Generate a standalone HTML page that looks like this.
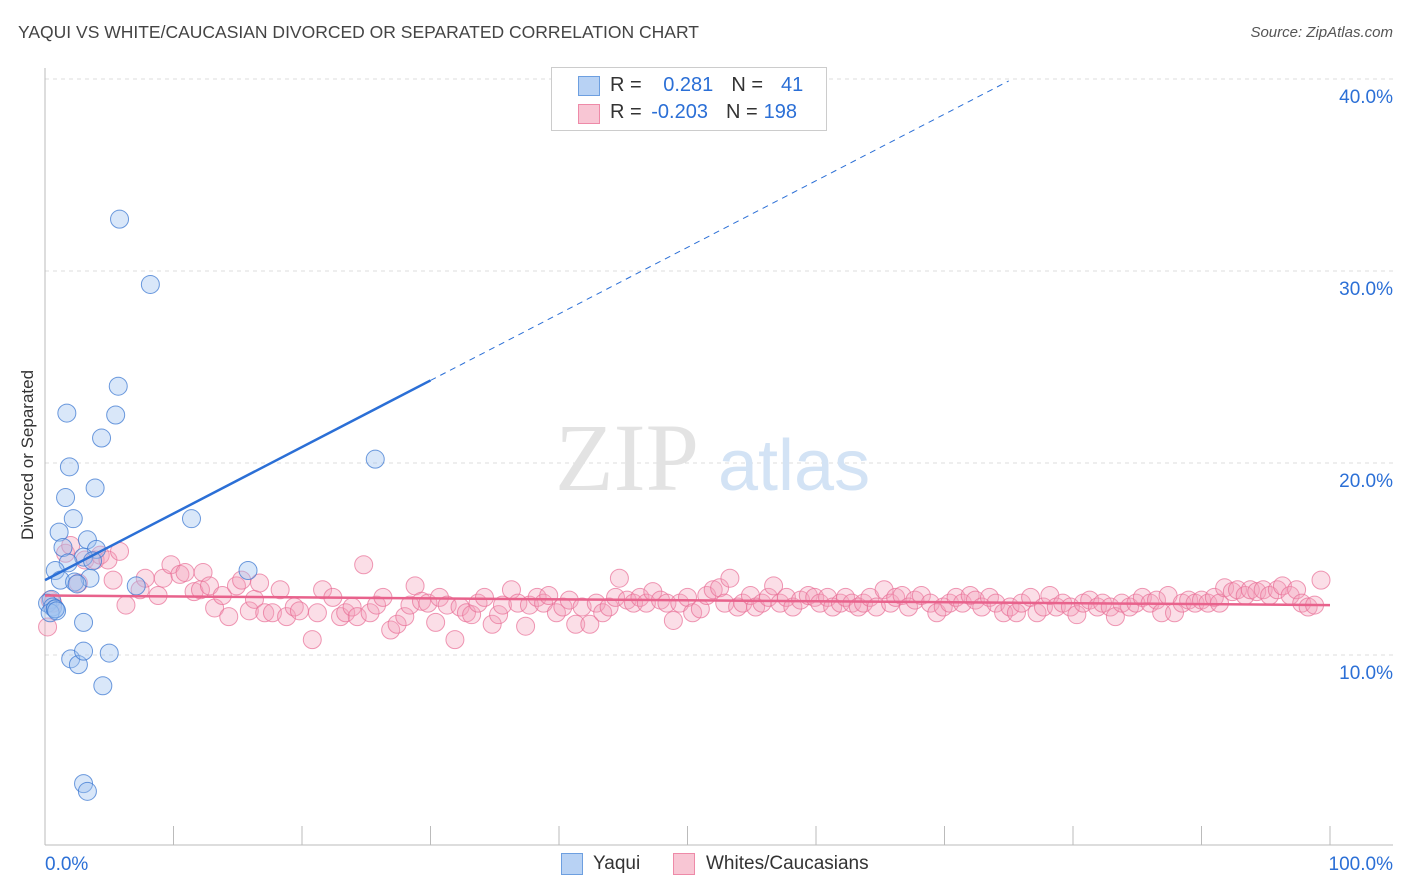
<!DOCTYPE html>
<html><head><meta charset="utf-8">
<style>
body{margin:0;background:#fff;font-family:"Liberation Sans",sans-serif;}
#wrap{position:relative;width:1406px;height:892px;overflow:hidden;}
.t{position:absolute;white-space:nowrap;}
</style></head><body>
<div id="wrap">
<div class="t" style="left:18px;top:22px;font-size:17.5px;color:#444;">YAQUI VS WHITE/CAUCASIAN DIVORCED OR SEPARATED CORRELATION CHART</div>
<div class="t" style="right:13px;top:24px;font-size:15px;color:#555;font-style:italic;">Source: ZipAtlas.com</div>
<div class="t" style="left:28px;top:455px;font-size:17px;color:#333;transform:translate(-50%,-50%) rotate(-90deg);">Divorced or Separated</div>
<svg id="plot" width="1406" height="892" style="position:absolute;left:0;top:0"></svg>
<div style="position:absolute;left:551px;top:67px;width:274px;height:62px;border:1px solid #ccc;background:#fff;font-size:20px;color:#333;">
 <div style="position:absolute;left:26px;top:8px;width:20px;height:18px;background:#b8d2f4;border:1px solid #6d9fe0;"></div>
 <div class="t" style="left:58px;top:6px;">R = <span style="color:#2b6fd6;margin-left:16px;">0.281</span><span style="margin-left:18px;">N =</span><span style="color:#2b6fd6;margin-left:18px;">41</span></div>
 <div style="position:absolute;left:26px;top:36px;width:20px;height:18px;background:#f8c6d4;border:1px solid #ee8aa8;"></div>
 <div class="t" style="left:58px;top:33px;">R = <span style="color:#2b6fd6;margin-left:4px;">-0.203</span><span style="margin-left:18px;">N =</span><span style="color:#2b6fd6;margin-left:6px;">198</span></div>
</div>
<div style="position:absolute;left:561px;top:853px;width:20px;height:20px;background:#b8d2f4;border:1px solid #6d9fe0;"></div>
<div class="t" style="left:593px;top:853px;font-size:19px;color:#333;">Yaqui</div>
<div style="position:absolute;left:673px;top:853px;width:20px;height:20px;background:#f8c6d4;border:1px solid #ee8aa8;"></div>
<div class="t" style="left:706px;top:853px;font-size:19px;color:#333;">Whites/Caucasians</div>
</div>
<script>
const yTicks=[10,20,30,40];
const yTickLabels=["10.0%","20.0%","30.0%","40.0%"];
const xTickLabels=["0.0%","100.0%"];
const yaquiX=[5.8,8.2,5.7,5.5,1.7,4.4,1.9,3.9,1.6,2.2,11.4,1.1,25.7,3.3,1.4,4.0,3.0,1.8,3.7,0.8,15.8,1.2,3.5,2.3,2.5,7.1,0.5,0.2,0.6,0.8,0.4,3.0,2.0,2.6,3.0,5.0,4.5,3.0,3.3,0.8,0.9];
const yaquiY=[32.7,29.3,24.0,22.5,22.6,21.3,19.8,18.7,18.2,17.1,17.1,16.4,20.2,16.0,15.6,15.5,15.1,14.8,14.9,14.4,14.4,13.9,14.0,13.8,13.7,13.6,12.9,12.7,12.5,12.4,12.2,11.7,9.8,9.5,10.2,10.1,8.4,3.3,2.9,12.4,12.3];
const whitesX=[0.2,0.4,0.6,1.6,2,2.6,3.1,3.9,4.3,4.9,5.3,5.8,6.3,7.4,7.8,8.8,9.2,9.8,10.5,10.9,11.6,12.1,12.3,12.8,13.2,13.8,14.3,14.9,15.3,15.9,16.3,16.7,17.1,17.7,18.3,18.8,19.4,19.8,20.8,21.2,21.6,22.4,23.0,23.4,23.9,24.3,24.8,25.3,25.8,26.3,26.9,27.4,28.0,28.4,28.8,29.3,29.8,30.4,30.7,31.3,31.9,32.3,32.8,33.2,33.7,34.2,34.8,35.3,35.6,36.3,36.8,37.4,37.7,38.3,38.8,39.2,39.8,40.3,40.8,41.3,41.8,42.4,42.9,43.4,43.9,44.4,44.7,45.3,45.8,46.3,46.8,47.3,47.9,48.4,48.9,49.4,50.0,50.4,51.0,51.5,52.0,52.5,52.9,53.3,53.9,54.3,54.9,55.3,55.8,56.3,56.7,57.2,57.7,58.2,58.8,59.4,59.9,60.3,60.9,61.3,61.9,62.3,62.8,63.3,63.7,64.2,64.7,65.3,65.8,66.2,66.7,67.2,67.7,68.2,68.9,69.4,69.9,70.4,70.9,71.4,72.0,72.4,72.9,73.5,74.0,74.6,75.1,75.6,76.0,76.7,77.2,77.7,78.2,78.7,79.2,79.8,80.3,80.8,81.3,81.9,82.3,82.9,83.3,83.8,84.4,84.9,85.4,86.0,86.5,86.9,87.4,87.9,88.5,89.0,89.5,90.0,90.5,91.0,91.4,91.8,92.4,92.8,93.4,93.8,94.3,94.8,95.3,95.9,96.3,96.9,97.4,97.8,98.3,98.8,99.3];
const whitesY=[11.46,12.86,12.7,15.3,15.7,13.75,14.95,14.95,15.2,14.95,13.9,15.4,12.6,13.4,14.0,13.1,14.0,14.7,14.2,14.3,13.3,13.4,14.3,13.6,12.45,13.1,12.0,13.6,13.9,12.3,12.9,13.75,12.2,12.2,13.4,12.0,12.5,12.3,10.8,12.2,13.4,13.0,12.0,12.2,12.5,12.0,14.7,12.2,12.6,13.0,11.3,11.6,12.0,12.6,13.6,12.8,12.7,11.7,13.0,12.6,10.8,12.5,12.2,12.1,12.7,13.0,11.6,12.1,12.6,13.4,12.7,11.5,12.6,13.0,12.7,13.1,12.2,12.5,12.86,11.6,12.5,11.6,12.7,12.2,12.5,13.0,14.0,12.86,12.7,13.0,12.7,13.3,12.86,12.7,11.8,12.7,13.0,12.2,12.4,13.1,13.4,13.5,12.7,14.0,12.5,12.7,13.1,12.5,12.7,13.0,13.6,12.7,13.0,12.5,12.86,13.1,13.0,12.7,13.0,12.5,12.7,13.0,12.7,12.5,12.7,13.0,12.5,13.4,12.7,13.0,13.1,12.5,12.86,13.1,12.7,12.2,12.5,12.7,13.0,12.7,13.1,12.86,12.5,13.0,12.7,12.2,12.5,12.2,12.7,13.0,12.2,12.5,13.1,12.5,12.7,12.5,12.1,12.7,12.86,12.5,12.7,12.5,12.0,12.7,12.5,12.7,13.0,12.7,12.86,12.2,13.1,12.2,12.7,12.86,12.7,12.86,12.7,13.0,12.7,13.5,13.3,13.4,13.1,13.4,13.3,13.4,13.1,13.4,13.6,13.1,13.4,12.7,12.5,12.6,13.9];
const yaquiTrend=[0,13.9,30,24.3,75,39.9];
const whitesTrend=[0,13.1,100,12.6];

const svg=document.getElementById('plot');
const NS='http://www.w3.org/2000/svg';
const X0=45,X1=1330,Y0=847,PX=19.2;
const sx=v=>X0+(X1-X0)*v/100;
const sy=v=>Y0-v*PX;
function mk(tag,attrs){const e=document.createElementNS(NS,tag);for(const k in attrs)e.setAttribute(k,attrs[k]);svg.appendChild(e);return e;}
// gridlines
yTicks.forEach((t,i)=>{
 const g=mk('line',{x1:X0,x2:1393,y1:sy(t),y2:sy(t),stroke:'#dcdcdc','stroke-dasharray':'4,4'});
 
 
 const tx=mk('text',{x:1393,y:sy(t)+24,'text-anchor':'end','font-size':19,fill:'#2b6fd6','font-family':'Liberation Sans'});
 tx.textContent=yTickLabels[i];
 
 
});
// axes
let a=mk('line',{x1:X0,x2:X0,y1:68,y2:845,stroke:'#bbb'});


a=mk('line',{x1:X0,x2:1393,y1:845,y2:845,stroke:'#bbb'});


for(let i=1;i<=10;i++){
 const tk=mk('line',{x1:sx(i*10),x2:sx(i*10),y1:826,y2:845,stroke:'#bbb'});
 
 
}
[[0,'start',45],[100,'end',1393]].forEach((d,i)=>{
 const tx=mk('text',{x:d[2],y:870,'text-anchor':d[1],'font-size':19,fill:'#2b6fd6','font-family':'Liberation Sans'});
 tx.textContent=xTickLabels[i];
 
 
});
// watermark
let w=mk('text',{x:555,y:490,'font-size':96,fill:'#e3e3e3','font-family':'Liberation Serif'});
w.textContent='ZIP';


w=mk('text',{x:718,y:490,'font-size':72,fill:'#d3e3f5','font-family':'Liberation Sans'});
w.textContent='atlas';


// points
whitesX.forEach((v,i)=>{
 const c=mk('circle',{cx:sx(v),cy:sy(whitesY[i]),r:9,fill:'rgba(244,160,185,0.35)',stroke:'rgba(232,110,150,0.7)','stroke-width':1});
 
 
});
yaquiX.forEach((v,i)=>{
 const c=mk('circle',{cx:sx(v),cy:sy(yaquiY[i]),r:9,fill:'rgba(160,195,240,0.4)',stroke:'rgba(60,120,210,0.75)','stroke-width':1});
 
 
});
// trends
let l=mk('line',{x1:sx(yaquiTrend[0]),y1:sy(yaquiTrend[1]),x2:sx(yaquiTrend[2]),y2:sy(yaquiTrend[3]),stroke:'#2b6fd6','stroke-width':2.5});


l=mk('line',{x1:sx(yaquiTrend[2]),y1:sy(yaquiTrend[3]),x2:sx(yaquiTrend[4]),y2:sy(yaquiTrend[5]),stroke:'#2b6fd6','stroke-width':1,'stroke-dasharray':'6,5'});


l=mk('line',{x1:sx(whitesTrend[0]),y1:sy(whitesTrend[1]),x2:sx(whitesTrend[2]),y2:sy(whitesTrend[3]),stroke:'#e8628c','stroke-width':2.5});


</script>
</body></html>
